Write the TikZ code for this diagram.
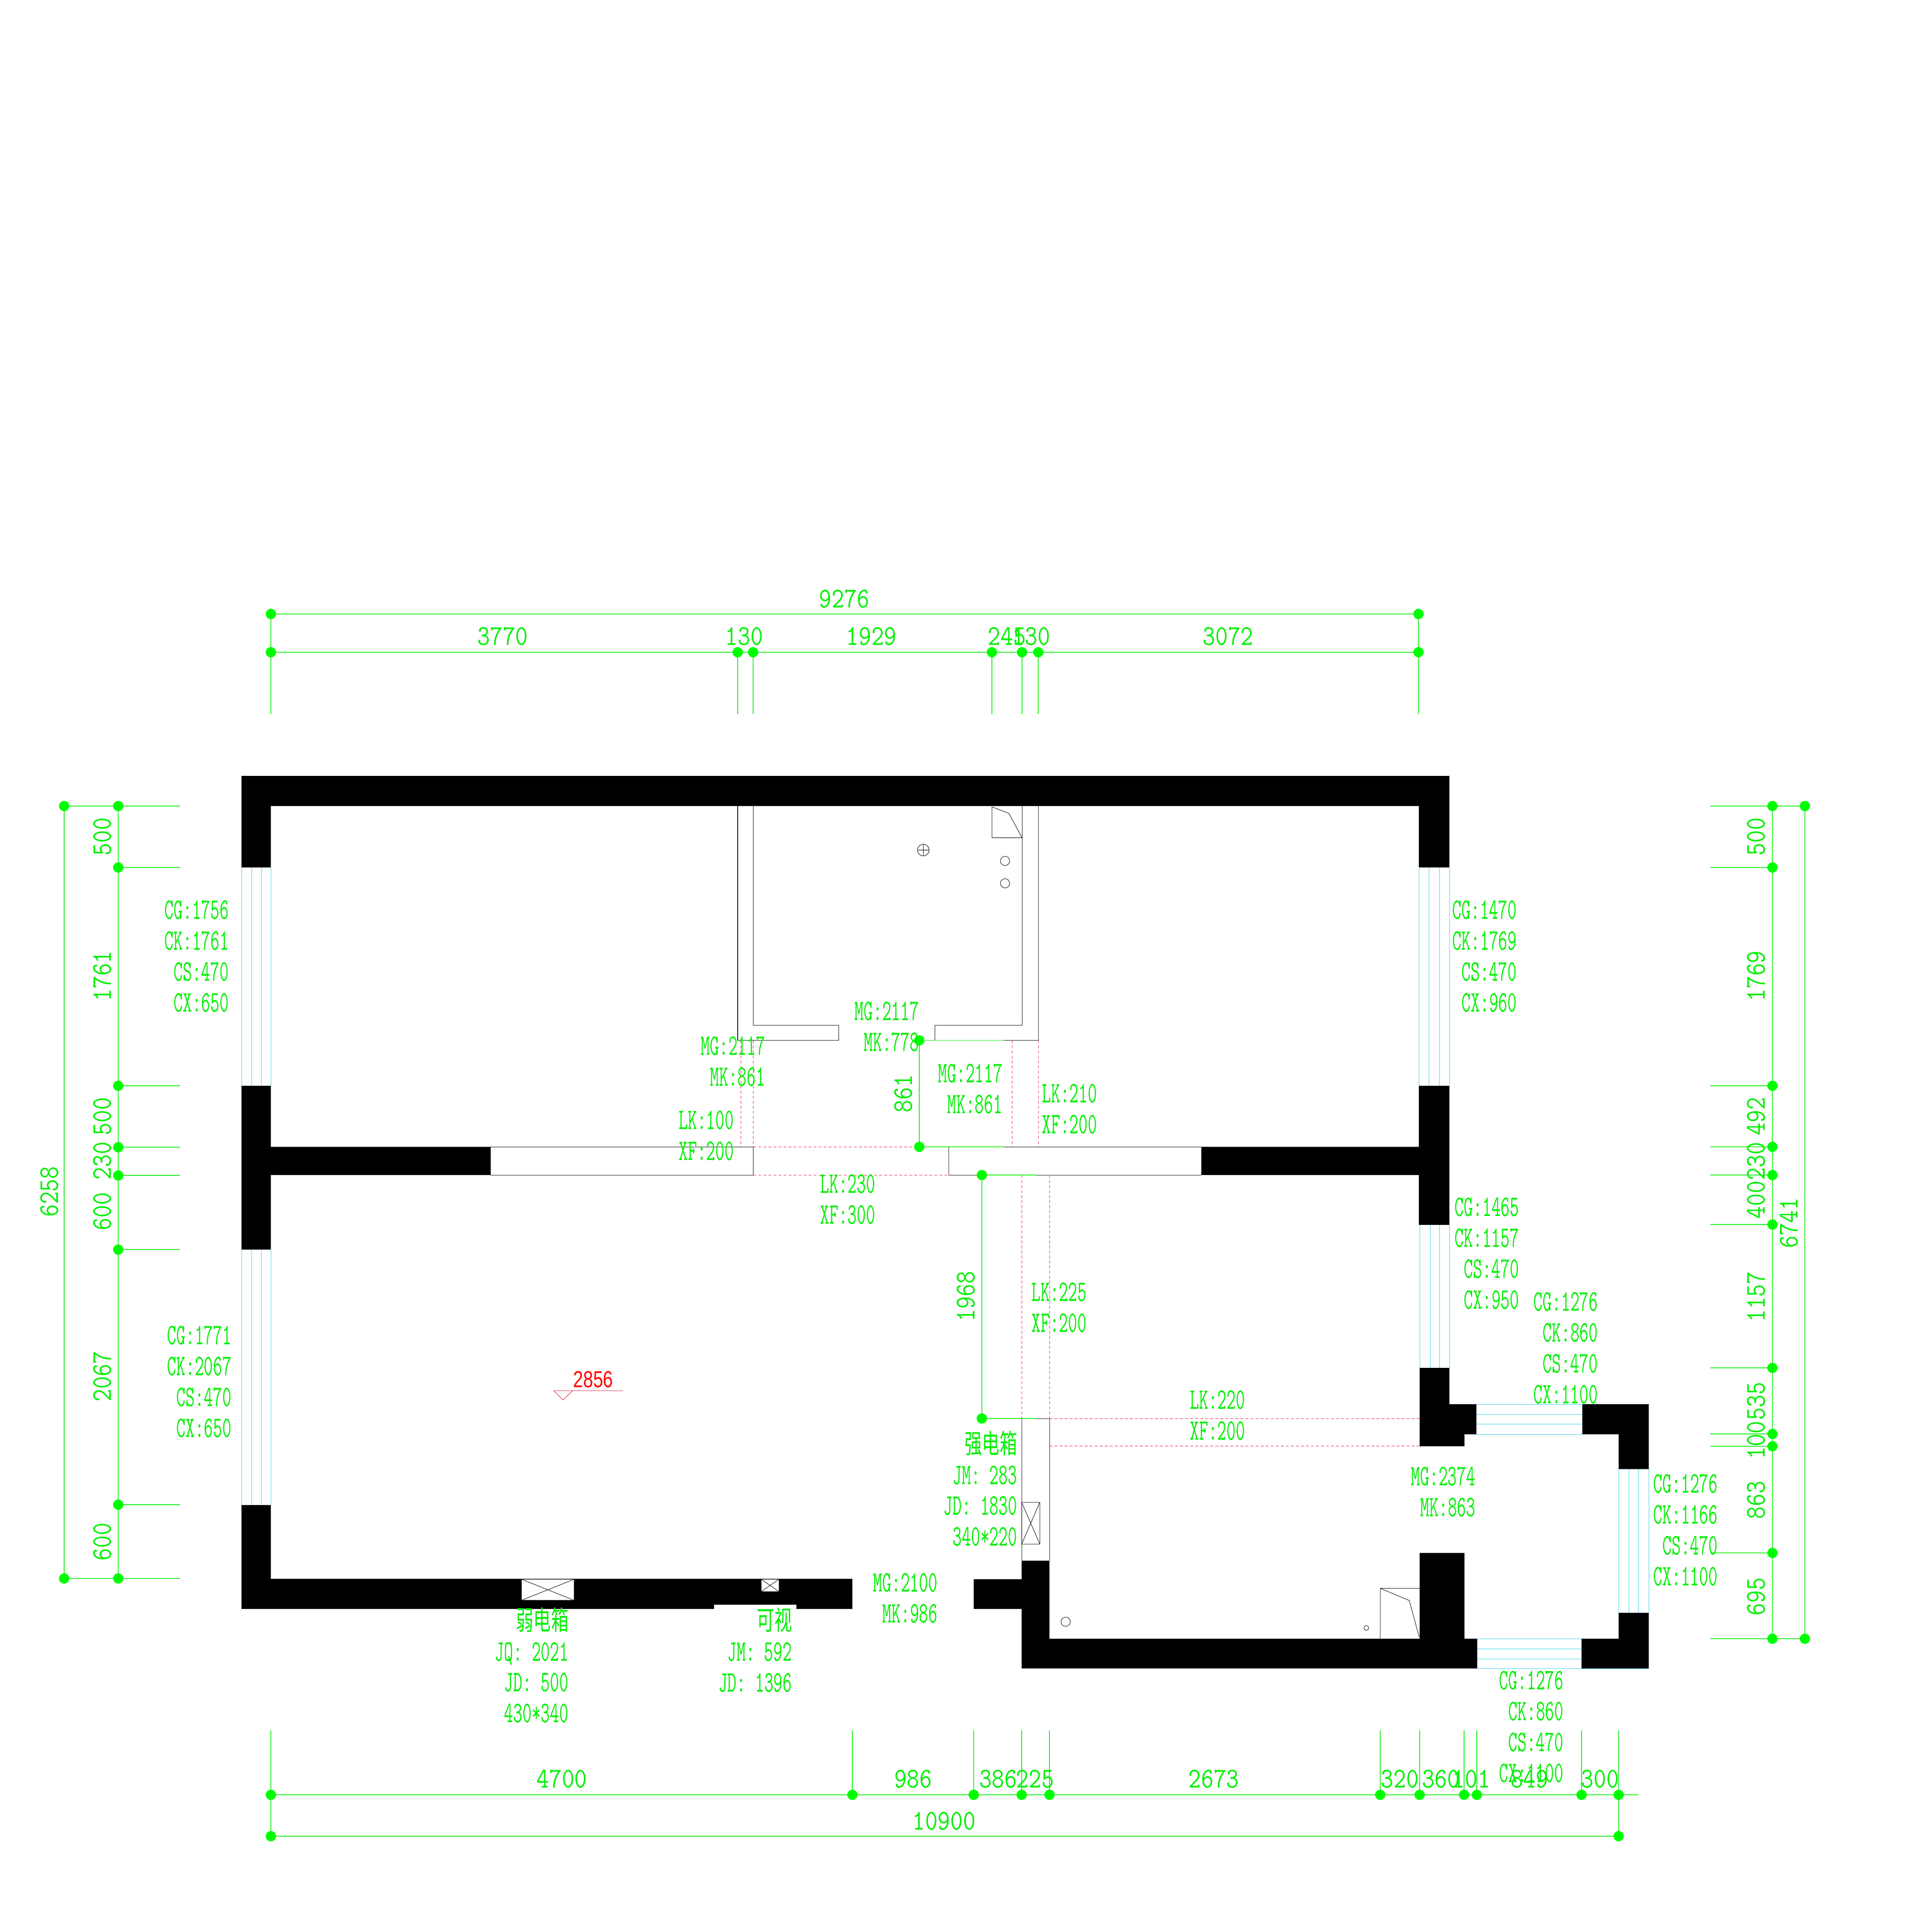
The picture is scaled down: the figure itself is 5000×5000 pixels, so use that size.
\documentclass[tikz,border=0pt]{standalone}
\usepackage{fontspec}
\usepackage{graphicx}
\setsansfont{Liberation Sans}
\newfontfamily\cjk{Noto Sans CJK SC}
\definecolor{dimgreen}{RGB}{0,240,0}
\definecolor{dotgreen}{RGB}{0,255,0}
\definecolor{wincyan}{RGB}{40,210,235}
\definecolor{dashred}{RGB}{225,20,50}
\newcommand\labt[1]{\scalebox{0.6}[1]{\fontsize{21.9}{22.7}\selectfont\ttfamily\begin{tabular}{@{}r@{}}#1\end{tabular}}}
\newcommand\dimt[1]{\scalebox{0.86}[1]{\fontsize{21}{21}\selectfont\ttfamily #1}}
\newcommand\cjt[1]{\scalebox{0.98}[0.9]{\cjk #1}}
\tikzset{
  wall/.style={fill=black,draw=none},
  thin line/.style={draw=black,line width=0.3pt},
  winline/.style={draw=wincyan,line width=0.28pt},
  reddash/.style={draw=dashred,line width=0.22pt,dash pattern=on 2.2pt off 1.5pt},
  dimline/.style={draw=dimgreen,line width=0.45pt},
  dimtick/.style={draw=dimgreen,line width=0.35pt},
  dimdot/.style={circle,fill=dotgreen,draw=none,inner sep=0pt,minimum size=7.6pt},
  dimlabel/.style={text=dimgreen,inner sep=0pt},
  noteright/.style={text=dimgreen,inner sep=0pt,anchor=east,yshift=-1.9pt},
}
\begin{document}
\begin{tikzpicture}[x=0.01cm,y=-0.01cm]
\path[use as bounding box,fill=white] (0,0) rectangle (5000,5000);
% walls
\foreach \a/\b/\c/\d in {
 625/2008/3751/2086, 625/2086/701/2245, 625/2810/701/3234, 625/3895/701/4164,
 625/4086/2206/4164, 701/2968/1269/3041, 3109/2968/3672/3041,
 3672/2086/3751/2245, 3672/2810/3751/3170, 3674/3540/3751/3634, 3674/3634/3821/3712,
 3674/3712/3790/3743, 4095/3634/4267/3712, 4189/3712/4267/3802, 4189/4174/4267/4241,
 4093/4241/4267/4318, 2644/4241/3823/4318, 3674/4019/3790/4241, 2644/4039/2716/4318,
 2520/4087/2644/4164}
 {\fill[wall] (\a,\b) rectangle (\c,\d);}
% boxes in the wall
\fill[white] (1848,4153) rectangle (2061,4164);
\foreach \a/\b/\c/\d in {1349.5/4087/1486/4141.6, 1970/4087/2016/4119}{
 \fill[white] (\a,\b) rectangle (\c,\d);
 \draw[thin line] (\a,\b) rectangle (\c,\d) (\a,\b) -- (\c,\d) (\a,\d) -- (\c,\b);}
% partition lines
\draw[thin line] (1909,2086) -- (1909,2692.5) -- (2170,2692.5) -- (2170,2653) -- (1949.5,2653) -- (1949.5,2086);
\draw[thin line] (2687,2086) -- (2687,2692.5) -- (2419,2692.5) -- (2419,2653) -- (2645,2653) -- (2645,2086);
\draw[thin line] (1269,2968) -- (1949.5,2968) (1269,3041) -- (1949.5,3041) (1269,2968) -- (1269,3041) (1949.5,2968) -- (1949.5,3041);
\draw[thin line] (2455,2968) -- (3109,2968) (2455,3041) -- (3109,3041) (2455,2968) -- (2455,3041) (3109,2968) -- (3109,3041);
\draw[thin line] (2644,3671) -- (2644,4039) (2716,3671) -- (2716,4039) (2644,3671) -- (2716,3671);
\draw[thin line] (2644,3888) rectangle (2691,3996) (2644,3888) -- (2691,3996) (2644,3996) -- (2691,3888);
% fixtures
\draw[thin line] (2567,2088) -- (2567,2168) -- (2645,2168) -- (2611,2105) -- cycle;
\draw[thin line] (2389.5,2200) circle[radius=15] (2374.5,2200) -- (2404.5,2200) (2389.5,2185) -- (2389.5,2215);
\draw[thin line] (2601,2228) circle[radius=12] (2601,2286) circle[radius=12];
\draw[thin line] (3572,4241) -- (3572,4110.5) -- (3674,4110.5) (3572,4110.5) -- (3647,4142) -- (3673,4237);
\draw[thin line] (2758,4197) circle[radius=12] (3536,4213) circle[radius=6];
% windows
\foreach \x in {625,651,676,701}{\draw[winline] (\x,2245) -- (\x,2810) (\x,3234) -- (\x,3895);}
\foreach \x in {3672,3698,3725,3751}{\draw[winline] (\x,2245) -- (\x,2810);}
\foreach \x in {3674,3701,3725.5,3751}{\draw[winline] (\x,3170) -- (\x,3540);}
\foreach \x in {4189,4215,4240,4267}{\draw[winline] (\x,3802) -- (\x,4174);}
\foreach \y in {3634,3660,3685,3712}{\draw[winline] (3821,\y) -- (4095,\y);}
\foreach \y in {4241,4267,4293}{\draw[winline] (3823,\y) -- (4093,\y);}
\draw[winline] (3823,4318) -- (4267,4318);
% red dashes
\draw[reddash] (1917,2692.5) -- (1917,2968) (1949.5,2692.5) -- (1949.5,2968) (2619,2692.5) -- (2619,2968) (2687,2692.5) -- (2687,2968);
\draw[reddash] (1949.5,2968) -- (2379,2968) (1949.5,3041) -- (2455,3041);
\draw[reddash] (2644,3041) -- (2644,3671) (2716,3041) -- (2716,3671);
\draw[reddash] (2716,3671) -- (3674,3671) (2716,3742) -- (3674,3742);
% top dimensions
\foreach \n/\x in {u0/701,u1/3671}{\node[dimdot] (\n) at (\x,1589) {};}
\foreach \n/\x in {t0/701,t1/1909,t2/1949,t3/2567,t4/2645,t5/2687,t6/3671}{
 \node[dimdot] (\n) at (\x,1688) {};
 \coordinate (\n e) at (\x,1848);}
\draw[dimline] (u0.center) -- (u1.center);
\draw[dimline] (t0.center) -- (t6.center);
\draw[dimtick] (u0.center) -- (t0e);
\draw[dimtick] (u1.center) -- (t6e);
\foreach \n in {t1,t2,t3,t4,t5}{\draw[dimtick] (\n.center) -- (\n e);}
\foreach \n/\x/\t in {tl0/1301/3770,tl1/1926/130,tl2/2255/1929,tl3/2606/245,tl4/2669/130,tl5/3178/3072}{
 \node[dimlabel] (\n) at (\x,1647) {\dimt{\t}};}
\node[dimlabel] (ul) at (2185,1550) {\dimt{9276}};
% bottom dimensions
\foreach \n/\x in {b0/701,b1/2206,b2/2520,b3/2644,b4/2716,b5/3572,b6/3674,b7/3789,b8/3822,b9/4093,b10/4189}{
 \node[dimdot] (\n) at (\x,4645) {};
 \coordinate (\n e) at (\x,4478);}
\coordinate (bend) at (4240,4645);
\draw[dimline] (b0.center) -- (bend);
\foreach \n in {b1,b2,b3,b4,b5,b6,b7,b8,b9}{\draw[dimtick] (\n.center) -- (\n e);}
\node[dimdot] (c0) at (701,4752) {};
\node[dimdot] (c1) at (4189,4752) {};
\draw[dimline] (c0.center) -- (c1.center);
\draw[dimtick] (c0.center) -- (b0e);
\draw[dimtick] (c1.center) -- (b10e);
\foreach \n/\x/\t in {bl0/1454/4700,bl1/2363/986,bl2/2583/386,bl3/2679/225,bl4/3141/2673,bl5/3623/320,bl6/3729/360,bl7/3808/101,bl8/3958/849,bl9/4141/300}{
 \node[dimlabel] (\n) at (\x,4604) {\dimt{\t}};}
\node[dimlabel] (cl) at (2443,4713) {\dimt{10900}};
% left dimensions
\foreach \n/\y in {l0/2086,l1/2245,l2/2810,l3/2969,l4/3042,l5/3234,l6/3894,l7/4085}{
 \node[dimdot] (\n) at (306,\y) {};
 \coordinate (\n e) at (466,\y);}
\draw[dimline] (l0.center) -- (l7.center);
\foreach \n in {l1,l2,l3,l4,l5,l6}{\draw[dimtick] (\n.center) -- (\n e);}
\node[dimdot] (m0) at (166,2086) {};
\node[dimdot] (m1) at (166,4085) {};
\draw[dimline] (m0.center) -- (m1.center);
\draw[dimtick] (m0.center) -- (l0e);
\draw[dimtick] (m1.center) -- (l7e);
\foreach \n/\y/\t in {ll0/2165/500,ll1/2526/1761,ll2/2889/500,ll3/3004/230,ll4/3135/600,ll5/3562/2067,ll6/3990/600}{
 \node[dimlabel,rotate=90] (\n) at (265,\y) {\dimt{\t}};}
\node[dimlabel,rotate=90] (ml) at (128,3084) {\dimt{6258}};
% right dimensions
\foreach \n/\y in {r0/2086,r1/2245,r2/2810,r3/2968,r4/3041,r5/3169,r6/3540,r7/3711,r8/3743,r9/4019,r10/4241}{
 \node[dimdot] (\n) at (4587,\y) {};
 \coordinate (\n e) at (4426,\y);}
\draw[dimline] (r0.center) -- (r10.center);
\foreach \n in {r1,r2,r3,r4,r5,r6,r7,r8,r9}{\draw[dimtick] (\n.center) -- (\n e);}
\node[dimdot] (s0) at (4671,2086) {};
\node[dimdot] (s1) at (4671,4241) {};
\draw[dimline] (s0.center) -- (s1.center);
\draw[dimtick] (s0.center) -- (r0e);
\draw[dimtick] (s1.center) -- (r10e);
\foreach \n/\y/\t in {rl0/2165/500,rl1/2526/1769,rl2/2889/492,rl3/3005/230,rl4/3105/400,rl5/3356/1157,rl6/3626/535,rl7/3727/100,rl8/3882/863,rl9/4132/695}{
 \node[dimlabel,rotate=90] (\n) at (4545,\y) {\dimt{\t}};}
\node[dimlabel,rotate=90] (sl) at (4630,3165) {\dimt{6741}};
% inner dimensions
\node[dimdot] (d0) at (2379,2692.5) {};
\node[dimdot] (d1) at (2379,2968) {};
\coordinate (d0e) at (2597,2692.5);
\coordinate (d1e) at (2597,2968);
\draw[dimtick] (d0.center) -- (d1.center) (d0.center) -- (d0e) (d1.center) -- (d1e);
\node[dimlabel,rotate=90] (dl) at (2338,2830) {\dimt{861}};
\node[dimdot] (e0) at (2541,3041) {};
\node[dimdot] (e1) at (2541,3671) {};
\coordinate (e0e) at (2682,3041);
\coordinate (e1e) at (2682,3671);
\draw[dimtick] (e0.center) -- (e1.center) (e0.center) -- (e0e) (e1.center) -- (e1e);
\node[dimlabel,rotate=90] (el) at (2500,3355) {\dimt{1968}};
% level mark
\coordinate (lv0) at (1433,3599);
\coordinate (lv1) at (1612,3599);
\coordinate (lv2) at (1457,3623);
\coordinate (lv3) at (1482,3599);
\draw[draw=dashred,line width=0.3pt] (lv0) -- (lv1) (lv0) -- (lv2) -- (lv3);
\node[text=red,inner sep=0pt] (lvl) at (1535,3570) {\scalebox{0.78}[1]{\fontsize{17}{17}\selectfont\sffamily 2856}};
% notes
\node[noteright] (n1) at (593,2476) {\labt{CG:1756\\CK:1761\\CS:470\\CX:650}};
\node[noteright] (n2) at (3926,2476) {\labt{CG:1470\\CK:1769\\CS:470\\CX:960}};
\node[noteright] (n3) at (600,3577) {\labt{CG:1771\\CK:2067\\CS:470\\CX:650}};
\node[noteright] (n4) at (3932,3245) {\labt{CG:1465\\CK:1157\\CS:470\\CX:950}};
\node[noteright] (n5) at (4136,3490) {\labt{CG:1276\\CK:860\\CS:470\\CX:1100}};
\node[noteright] (n6) at (4446,3961) {\labt{CG:1276\\CK:1166\\CS:470\\CX:1100}};
\node[noteright] (n7) at (4047,4470) {\labt{CG:1276\\CK:860\\CS:470\\CX:1100}};
\node[noteright] (n8) at (3819,3862) {\labt{MG:2374\\MK:863}};
\node[noteright] (n9) at (2427,4137) {\labt{MG:2100\\MK:986}};
\node[noteright] (n10) at (2379,2658) {\labt{MG:2117\\MK:778}};
\node[noteright] (n11) at (1981,2748) {\labt{MG:2117\\MK:861}};
\node[noteright] (n12) at (2595,2819) {\labt{MG:2117\\MK:861}};
\node[noteright] (n13) at (2840,2871) {\labt{LK:210\\XF:200}};
\node[noteright] (n14) at (1900,2940) {\labt{LK:100\\XF:200}};
\node[noteright] (n15) at (2266,3105) {\labt{LK:230\\XF:300}};
\node[noteright] (n16) at (2813,3385) {\labt{LK:225\\XF:200}};
\node[noteright] (n17) at (3223,3664) {\labt{LK:220\\XF:200}};
\node[noteright] (n18) at (2633,3857) {\labt{\cjt{强电箱}\\JM:~283\\JD:~1830\\340*220}};
\node[noteright] (n19) at (1472,4314) {\labt{\cjt{弱电箱}\\JQ:~2021\\JD:~500\\430*340}};
\node[noteright] (n20) at (2050,4275) {\labt{\cjt{可视}\\JM:~592\\JD:~1396}};
\end{tikzpicture}
\end{document}
